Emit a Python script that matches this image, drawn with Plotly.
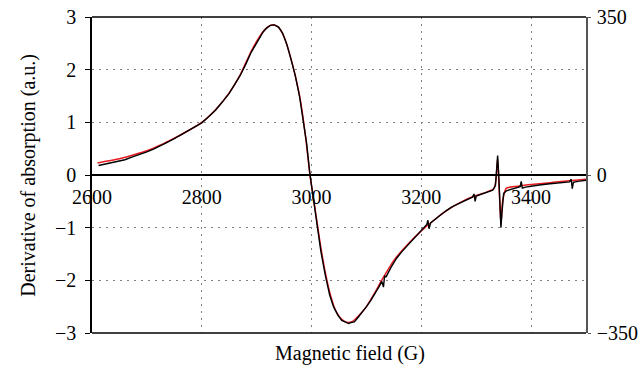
import plotly.graph_objects as go

# ---- data ----
field_fit = [2610, 2625, 2650, 2675, 2700, 2725, 2750, 2775, 2800, 2825, 2850, 2870, 2890,
             2905, 2915, 2925, 2932, 2940, 2950, 2960, 2970, 2980, 2990, 2997, 3005, 3015,
             3025, 3035, 3045, 3055, 3065, 3075, 3085, 3100, 3115, 3130, 3150, 3175, 3200,
             3225, 3250, 3275, 3300, 3320, 3332, 3336, 3339, 3342, 3345, 3348, 3355, 3370,
             3400, 3430, 3460, 3500]
fit_values = [0.23, 0.26, 0.31, 0.38, 0.46, 0.57, 0.70, 0.84, 1.00, 1.24, 1.56, 1.90, 2.35,
              2.62, 2.76, 2.84, 2.85, 2.80, 2.62, 2.30, 1.90, 1.40, 0.65, 0.0, -0.55, -1.25,
              -1.85, -2.30, -2.60, -2.74, -2.80, -2.78, -2.68, -2.50, -2.24, -1.96, -1.62,
              -1.32, -1.06, -0.84, -0.65, -0.50, -0.39, -0.32, -0.26, -0.10, 0.32, -0.30,
              -0.95, -0.50, -0.25, -0.22, -0.18, -0.15, -0.12, -0.08]

field_exp = [2612, 2620, 2630, 2640, 2650, 2660, 2675, 2690, 2700, 2712, 2725, 2737, 2750,
             2762, 2775, 2787, 2800, 2812, 2825, 2837, 2850, 2860, 2870, 2880, 2890, 2898,
             2905, 2912, 2918, 2925, 2932, 2940, 2947, 2955, 2962, 2970, 2978, 2985, 2991,
             2997, 3003, 3010, 3017, 3025, 3033, 3040, 3048, 3055, 3062, 3068, 3072, 3078,
             3085, 3093, 3100, 3108, 3116, 3123, 3128, 3131, 3133, 3136, 3145, 3155, 3165,
             3175, 3185, 3195, 3205, 3210, 3212, 3214, 3217, 3225, 3235, 3245, 3255, 3265,
             3275, 3285, 3293, 3296, 3298, 3300, 3310, 3320, 3330, 3335, 3337, 3339, 3341,
             3343, 3345, 3347, 3350, 3355, 3365, 3375, 3380, 3382, 3384, 3390, 3400, 3415,
             3430, 3445, 3460, 3470, 3473, 3475, 3477, 3485, 3500]
exp_values = [0.18, 0.20, 0.22, 0.24, 0.27, 0.29, 0.35, 0.40, 0.44, 0.49, 0.55, 0.62, 0.69,
              0.76, 0.83, 0.91, 0.99, 1.10, 1.23, 1.38, 1.55, 1.72, 1.89, 2.10, 2.33, 2.47,
              2.60, 2.72, 2.79, 2.84, 2.85, 2.81, 2.70, 2.48, 2.22, 1.90, 1.50, 1.05, 0.60,
              0.02, -0.45, -0.95, -1.45, -1.90, -2.28, -2.50, -2.66, -2.76, -2.80, -2.82,
              -2.80, -2.79, -2.70, -2.60, -2.50, -2.38, -2.25, -2.12, -2.02, -2.13, -1.92,
              -1.93, -1.75, -1.58, -1.45, -1.34, -1.22, -1.11, -1.00, -0.94, -0.86, -1.02,
              -0.91, -0.85, -0.76, -0.68, -0.61, -0.56, -0.51, -0.46, -0.42, -0.36, -0.50,
              -0.40, -0.36, -0.33, -0.29, -0.20, 0.10, 0.37, 0.0, -0.60, -1.00, -0.70, -0.35,
              -0.30, -0.27, -0.24, -0.22, -0.12, -0.25, -0.23, -0.21, -0.19, -0.17, -0.15,
              -0.14, -0.13, -0.08, -0.26, -0.14, -0.12, -0.10]

x_ticks = [2600, 2800, 3000, 3200, 3400]
y_ticks = [-3, -2, -1, 0, 1, 2, 3]
y2_ticks = [-350, 0, 350]

FONT = "Liberation Serif"
FS = 20

fig = go.Figure()
fig.add_trace(go.Scatter(x=field_fit, y=fit_values, mode="lines",
                         line=dict(color="#e8191f", width=1.5, shape="spline",
                                   smoothing=0.5),
                         showlegend=False))
fig.add_trace(go.Scatter(x=field_exp, y=exp_values, mode="lines",
                         line=dict(color="#000000", width=1.4), showlegend=False))
fig.add_trace(go.Scatter(x=[None], y=[None], yaxis="y2", showlegend=False,
                         hoverinfo="skip"))

grid = dict(showgrid=True, gridcolor="#808080", gridwidth=1, griddash="2px,5px")

fig.update_layout(
    width=639, height=366,
    margin=dict(l=92, r=53, t=17, b=33, autoexpand=False),
    paper_bgcolor="white", plot_bgcolor="white",
    font=dict(family=FONT, size=FS, color="black"),
    xaxis=dict(range=[2600, 3500], tickvals=x_ticks, anchor="free", position=0.5,
               showline=True, linecolor="black", linewidth=1.5, ticks="",
               ticklabelstandoff=4, zeroline=False, automargin=False, **grid),
    yaxis=dict(range=[-3, 3], tickvals=y_ticks, showline=True, linecolor="black",
               linewidth=1.5, ticks="outside", ticklen=5, tickcolor="black",
               ticklabelstandoff=5, zeroline=False, automargin=False, **grid),
    yaxis2=dict(range=[-350, 350], tickvals=y2_ticks, overlaying="y", side="right",
                showline=True, linecolor="#555555", linewidth=1.5, ticks="outside",
                ticklen=3, tickcolor="#555555", ticklabelstandoff=2,
                showgrid=False, zeroline=False, automargin=False),
    shapes=[
        dict(type="line", xref="paper", yref="paper", x0=0, x1=1, y0=1, y1=1,
             line=dict(color="black", width=1.5)),
        dict(type="line", xref="paper", yref="paper", x0=0, x1=1, y0=0, y1=0,
             line=dict(color="black", width=1.5)),
    ],
    annotations=[
        dict(text="Magnetic field (G)", xref="paper", yref="paper", x=0.522, y=0,
             xanchor="center", yanchor="middle", yshift=-20, showarrow=False,
             font=dict(size=FS)),
        dict(text="Derivative of absorption (a.u.)", xref="paper", yref="paper",
             x=-0.13, y=0.5, xanchor="center", yanchor="middle", textangle=-90,
             showarrow=False, font=dict(size=FS)),
    ],
)

fig.write_html("out.html", config={"displayModeBar": False},
               post_script="document.body.style.margin='0';")
